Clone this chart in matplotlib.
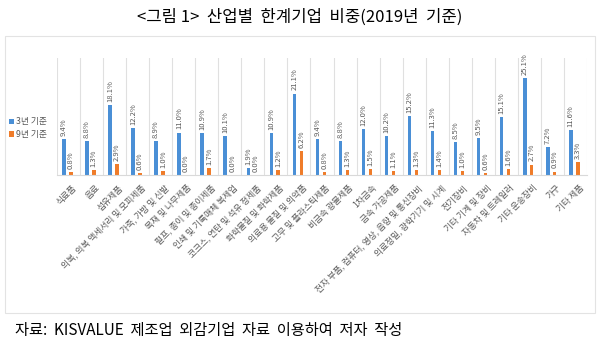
import numpy as np
import matplotlib
matplotlib.use("Agg")
import matplotlib.pyplot as plt
from matplotlib.patches import Rectangle

plt.rcParams['font.family'] = ['Noto Sans CJK KR', 'DejaVu Sans']

# 데이터
industries = [
    "식료품", "음료", "섬유제품", "의복, 의복 액세서리 및 모피제품", "가죽, 가방 및 신발",
    "목재 및 나무제품", "펄프, 종이 및 종이제품", "인쇄 및 기록매체 복제업",
    "코크스, 연탄 및 석유 정제품", "화학물질 및 화학제품", "의료용 물질 및 의약품",
    "고무 및 플라스틱제품", "비금속 광물제품", "1차금속", "금속 가공제품",
    "전자 부품, 컴퓨터, 영상, 음향 및 통신장비", "의료정밀, 광학기기 및 시계", "전기장비",
    "기타 기계 및 장비", "자동차 및 트레일러", "기타 운송장비", "가구", "기타 제품",
]
share_3y = [9.4, 8.8, 18.1, 12.2, 8.9, 11.0, 10.9, 10.1, 1.9, 10.9, 21.1, 9.4,
            8.8, 12.0, 10.2, 15.2, 11.3, 8.5, 9.5, 15.1, 25.1, 7.2, 11.6]
share_9y = [0.8, 1.3, 2.9, 0.6, 1.0, 0.0, 1.7, 0.0, 0.0, 1.2, 6.2, 0.8,
            1.3, 1.5, 1.1, 1.3, 1.4, 1.0, 0.6, 1.6, 2.7, 0.9, 3.3]
series_names = ["3년 기준", "9년 기준"]

blue = "#4a8fd6"
orange = "#ef7c2a"
gray = "#595959"

fig = plt.figure(figsize=(6, 3.54), dpi=100)

# 차트 테두리
fig.patches.append(Rectangle((5 / 600, 1 - 313 / 354), 590 / 600, 277 / 354,
                             transform=fig.transFigure, fill=False,
                             edgecolor="#e3e3e3", linewidth=0.8))

ax = fig.add_axes([57 / 600, 1 - 175 / 354, 530 / 600, 117 / 354])

x = np.arange(len(industries))
w = 0.15
ax.bar(x - 0.2, share_3y, w, color=blue, label=series_names[0])
ax.bar(x + 0.1, share_9y, w, color=orange, label=series_names[1])

for i in range(len(industries)):
    ax.text(x[i] - 0.2, share_3y[i] + 0.8, f"{share_3y[i]:.1f}%", rotation=90,
            ha="center", va="bottom", fontsize=5.5, color=gray)
    ax.text(x[i] + 0.1, share_9y[i] + 0.8, f"{share_9y[i]:.1f}%", rotation=90,
            ha="center", va="bottom", fontsize=5.5, color=gray)

ax.set_xlim(-0.5, len(industries) - 0.5)
ax.set_ylim(0, 30.3)
ax.set_yticks([])
for b in np.arange(-0.5, len(industries), 1):
    ax.axvline(b, color="#e0e0e0", linewidth=0.8, zorder=0)
for s in ["top", "left", "right"]:
    ax.spines[s].set_visible(False)
ax.spines["bottom"].set_color("#d9d9d9")

ax.set_xticks(x + 0.15)
ax.set_xticklabels(industries, rotation=45, ha="right", rotation_mode="anchor",
                   fontsize=6.3, color=gray)
ax.tick_params(axis="x", length=0, pad=6)

ax.legend(loc="center left", bbox_to_anchor=(-52 / 530, 0.40), frameon=False,
          fontsize=6.3, handlelength=0.6, handleheight=0.6, handletextpad=0.3,
          labelspacing=0.4, labelcolor=gray, borderaxespad=0)

fig.text(0.5, 1 - 17 / 354, "<그림 1>  산업별  한계기업  비중(2019년  기준)",
         ha="center", va="center", fontsize=12, color="black")
fig.text(15 / 600, 1 - 330 / 354, "자료:  KISVALUE  제조업  외감기업  자료  이용하여  저자  작성",
         ha="left", va="center", fontsize=11, color="black")

fig.savefig("out.png", dpi=100)
